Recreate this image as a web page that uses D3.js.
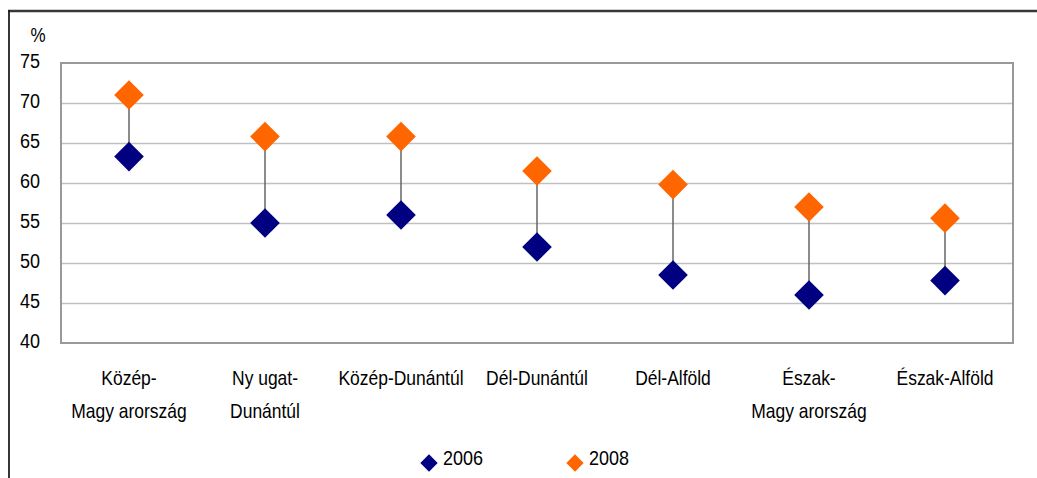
<!DOCTYPE html>
<html>
<head>
<meta charset="utf-8">
<script src="https://cdn.jsdelivr.net/npm/d3@7"></script>
<style>
  html, body { margin: 0; padding: 0; background: #fff; }
  svg { display: block; font-family: "Liberation Sans", Arial, sans-serif; }
</style>
</head>
<body>
<svg id="chart" width="1037" height="478"></svg>
<script>
// ---- data ----
const categories = ["Közép-\nMagy arország", "Ny ugat-\nDunántúl", "Közép-Dunántúl", "Dél-Dunántúl", "Dél-Alföld", "Észak-\nMagy arország", "Észak-Alföld"];
const values2006 = [63.3, 55.0, 56.0, 52.0, 48.5, 46.0, 47.8];
const values2008 = [71.0, 65.8, 65.8, 61.5, 59.8, 57.0, 55.6];
const yTicks = [40, 45, 50, 55, 60, 65, 70, 75];
const seriesNames = ["2006", "2008"];
const seriesColors = ["#000080", "#FF6600"];

// ---- layout ----
const W = 1037, H = 478;
const plot = { left: 61, right: 1013, top: 63, bottom: 343 };
const FS = 18;
const svg = d3.select("#chart");

svg.append("rect").attr("width", W).attr("height", H).attr("fill", "#fff");

// outer border lines (top & left)
svg.append("line").attr("x1", 8).attr("x2", W).attr("y1", 11).attr("y2", 11)
  .attr("stroke", "#383838").attr("stroke-width", 2.5);
svg.append("line").attr("x1", 9).attr("x2", 9).attr("y1", 10).attr("y2", H)
  .attr("stroke", "#202020").attr("stroke-width", 1.8);

const x = d3.scaleBand().domain(categories).range([plot.left, plot.right]);
const y = d3.scaleLinear().domain([40, 75]).range([plot.bottom, plot.top]);

// gridlines
const grid = svg.append("g").attr("transform", `translate(${plot.left},0)`)
  .call(d3.axisLeft(y).tickValues(yTicks.filter(t => t > 40 && t < 75))
    .tickSize(-(plot.right - plot.left)).tickFormat(""));
grid.select(".domain").remove();
grid.selectAll(".tick line").attr("stroke", "#c0c0c0").attr("stroke-width", 1.3);

// plot frame
svg.append("rect").attr("x", plot.left).attr("y", plot.top)
  .attr("width", plot.right - plot.left).attr("height", plot.bottom - plot.top)
  .attr("fill", "none").attr("stroke", "#999999").attr("stroke-width", 2);

// y axis labels
const yAxis = svg.append("g").attr("transform", `translate(40,0)`)
  .call(d3.axisLeft(y).tickValues(yTicks).tickSize(0).tickPadding(0));
yAxis.select(".domain").remove();
yAxis.selectAll(".tick text")
  .attr("font-size", FS).attr("font-family", "Liberation Sans, Arial, sans-serif")
  .attr("fill", "#000").attr("dy", null).attr("y", 0)
  .attr("transform", "translate(0,4) scale(1,1.15)")
  .style("dominant-baseline", "auto");

svg.append("text").attr("transform", "translate(38,42) scale(1,1.15)")
  .attr("text-anchor", "middle").attr("font-size", FS - 1).text("%");

// x category labels
const xAxis = svg.append("g");
categories.forEach(c => {
  const lines = c.split("\n");
  lines.forEach((ln, i) => {
    xAxis.append("text")
      .attr("transform", `translate(${x(c) + x.bandwidth() / 2},${385 + i * 33}) scale(0.97,1.15)`)
      .attr("text-anchor", "middle").attr("font-size", FS).attr("fill", "#000")
      .text(ln);
  });
});

// connectors
const pts = categories.map((c, i) => ({ c, v6: values2006[i], v8: values2008[i] }));
svg.append("g").selectAll("line").data(pts).join("line")
  .attr("x1", d => x(d.c) + x.bandwidth() / 2).attr("x2", d => x(d.c) + x.bandwidth() / 2)
  .attr("y1", d => y(d.v6)).attr("y2", d => y(d.v8))
  .attr("stroke", "#666").attr("stroke-width", 1.5);

// diamonds
const diamond = d3.symbol(d3.symbolSquare, 440);
[values2006, values2008].forEach((vals, s) => {
  svg.append("g").selectAll("path").data(vals).join("path")
    .attr("d", diamond)
    .attr("transform", (v, i) => `translate(${x(categories[i]) + x.bandwidth() / 2},${y(v)}) rotate(45)`)
    .attr("fill", seriesColors[s]);
});

// legend
const legendX = [429, 575];
const legend = svg.append("g");
seriesNames.forEach((n, i) => {
  legend.append("path").attr("d", d3.symbol(d3.symbolSquare, 150))
    .attr("transform", `translate(${legendX[i]},463) rotate(45)`)
    .attr("fill", seriesColors[i]);
  legend.append("text").attr("transform", `translate(${legendX[i] + 14},465) scale(1,1.15)`)
    .attr("font-size", FS).attr("fill", "#000").text(n);
});
</script>
</body>
</html>
